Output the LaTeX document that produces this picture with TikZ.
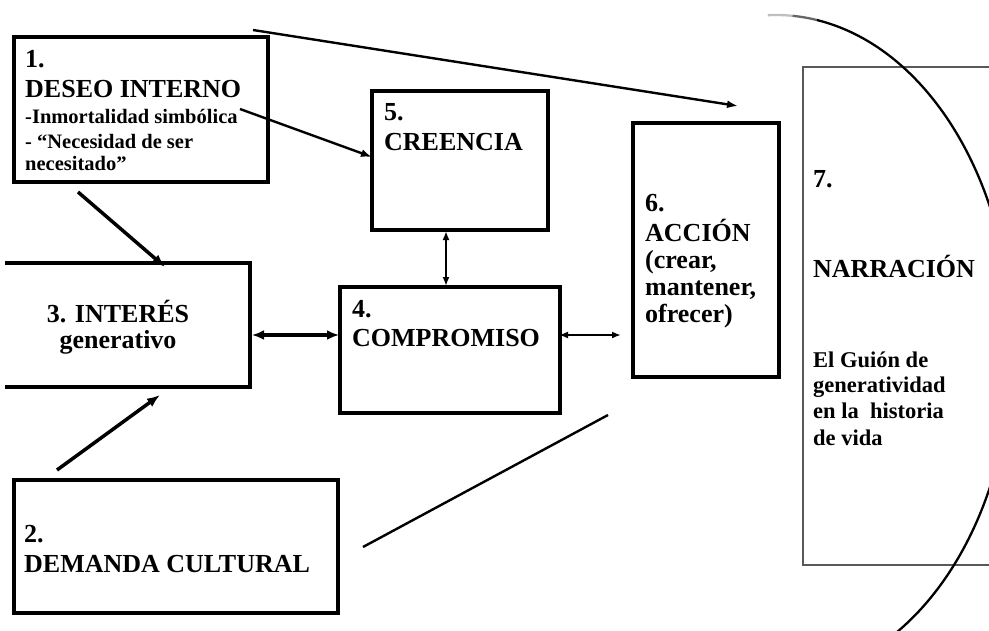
\documentclass[tikz,border=0pt]{standalone}
\usepackage{fontspec}
\setmainfont{Liberation Serif}
\usetikzlibrary{arrows.meta,calc}
\begin{document}
\begin{tikzpicture}[x=1pt,y=-1pt,
  boxline/.style={draw=black,line width=3.5pt,inner sep=0pt},
  thinbox/.style={draw=black!65,line width=1.6pt},
  big/.style={font=\bfseries\fontsize{26}{30}\selectfont,inner sep=0pt,anchor=base west},
  bigc/.style={font=\bfseries\fontsize{26}{30}\selectfont,inner sep=0pt,anchor=base},
  small/.style={font=\bfseries\fontsize{20.5}{24}\selectfont,inner sep=0pt,anchor=base west},
  mid/.style={font=\bfseries\fontsize{22.5}{26}\selectfont,inner sep=0pt,anchor=base west},
  thickarrow/.style={line width=3.5pt,-{Latex[length=13pt,width=10pt]}},
  thickdouble/.style={line width=3.5pt,{Latex[length=12pt,width=10pt]}-{Latex[length=12pt,width=10pt]}},
  medarrow/.style={line width=2.4pt,-{Latex[length=11pt,width=8pt]}},
  thindouble/.style={line width=2pt,{Latex[length=9pt,width=7pt]}-{Latex[length=9pt,width=7pt]}},
  plainline/.style={line width=2.4pt},
  arcline/.style={line width=2.3pt}
]
\useasboundingbox (0,0) rectangle (989,630);
\clip (0,0) rectangle (989,630);
\fill[white] (0,0) rectangle (989,630);

% boxes
\node[boxline,minimum width=254pt,minimum height=145pt] (b1) at (141,109.5) {};
\node[boxline,minimum width=176pt,minimum height=139pt] (b5) at (460,160.5) {};
\node[boxline,minimum width=220pt,minimum height=126pt] (b4) at (450,350) {};
\node[boxline,minimum width=146pt,minimum height=254pt] (b6) at (706,250) {};
\node[boxline,minimum width=324pt,minimum height=133pt] (b2) at (176,546.5) {};
\node[minimum width=264pt,minimum height=124pt,inner sep=0pt] (b3) at (118,325) {};
\draw[line width=3.5pt] ([xshift=19pt]b3.north west) -- (b3.north east) -- (b3.south east) -- ([xshift=19pt]b3.south west);
\node[minimum width=207pt,minimum height=498pt,inner sep=0pt] (b7) at (906.5,316) {};
\draw[thinbox] (b7.north east) -- (b7.north west) -- (b7.south west) -- (b7.south east);

% big arc
\coordinate (ec) at (776,347);
\draw[arcline,black!25] ($(ec)+(92:236pt and 332pt)$) arc[start angle=92,end angle=86,x radius=236pt,y radius=332pt];
\draw[arcline,black!60] ($(ec)+(86:236pt and 332pt)$) arc[start angle=86,end angle=80,x radius=236pt,y radius=332pt];
\draw[arcline,black] ($(ec)+(80:236pt and 332pt)$) arc[start angle=80,end angle=-66,x radius=236pt,y radius=332pt];

% texts box 1
\node[big] (t1a) at (25,67) {1.};
\node[big] (t1b) at (25,97) {DESEO INTERNO};
\node[small] (t1c) at (25,123) {-Inmortalidad simbólica};
\node[small] (t1d) at (25,148) {- “Necesidad de ser};
\node[small] (t1e) at (25,170) {necesitado”};
% box 5
\node[big] (t5a) at (384,120) {5.};
\node[big] (t5b) at (384,150) {CREENCIA};
% box 4
\node[big] (t4a) at (352,317) {4.};
\node[big] (t4b) at (352,346) {COMPROMISO};
% box 6
\node[big] (t6a) at (645,211) {6.};
\node[big] (t6b) at (645,241) {ACCIÓN};
\node[big] (t6c) at (645,268) {(crear,};
\node[big] (t6d) at (645,295) {mantener,};
\node[big] (t6e) at (645,322) {ofrecer)};
% box 3
\node[bigc] (t3a) at (118,322) {3. INTERÉS};
\node[bigc] (t3b) at (118,348) {generativo};
% box 2
\node[big] (t2a) at (24,542) {2.};
\node[big] (t2b) at (24,572) {DEMANDA CULTURAL};
% box 7
\node[big] (t7a) at (813,187) {7.};
\node[big] (t7b) at (813,277) {NARRACIÓN};
\node[mid] (t7c) at (813,367) {El Guión de};
\node[mid] (t7d) at (813,392) {generatividad};
\node[mid] (t7e) at (813,418) {en la~ historia};
\node[mid] (t7f) at (813,445) {de vida};

% connector end points
\coordinate (a1s) at (253,30);  \coordinate (a1e) at (738,106);
\coordinate (a2s) at (240,109); \coordinate (a2e) at (372,157);
\coordinate (a3s) at (78,192);  \coordinate (a3e) at (165,267);
\coordinate (a4s) at (57,470);  \coordinate (a4e) at (160,395);
\coordinate (a5s) at (252,335); \coordinate (a5e) at (339,335);
\coordinate (a6s) at (446,231); \coordinate (a6e) at (446,286);
\coordinate (a7s) at (559,335); \coordinate (a7e) at (621,335);
\coordinate (a8s) at (363,547); \coordinate (a8e) at (608,415);

\draw[medarrow] (a1s) -- (a1e);
\draw[medarrow] (a2s) -- (a2e);
\draw[thickarrow] (a3s) -- (a3e);
\draw[thickarrow] (a4s) -- (a4e);
\draw[thickdouble] (a5s) -- (a5e);
\draw[thindouble] (a6s) -- (a6e);
\draw[thindouble] (a7s) -- (a7e);
\draw[plainline] (a8s) -- (a8e);
\end{tikzpicture}
\end{document}
